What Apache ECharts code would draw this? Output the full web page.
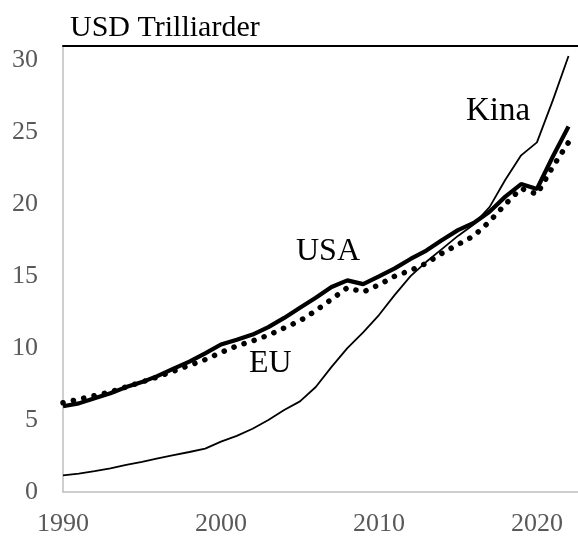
<!DOCTYPE html>
<html>
<head>
<meta charset="utf-8">
<script src="https://cdn.jsdelivr.net/npm/echarts@6/dist/echarts.min.js"></script>
<style>
  html, body { margin: 0; padding: 0; background: #fff; }
  #chart { width: 578px; height: 538px; }
</style>
</head>
<body>
<div id="chart"></div>
<script>
// år 1990-2022
const years = [];
for (let y = 1990; y <= 2022; y++) years.push(y);

const usa = [5.96, 6.16, 6.52, 6.86, 7.29, 7.64, 8.07, 8.58, 9.06, 9.63,
  10.25, 10.58, 10.94, 11.46, 12.1, 12.8, 13.5, 14.25, 14.71, 14.45,
  14.99, 15.54, 16.2, 16.78, 17.52, 18.2, 18.7, 19.48, 20.53, 21.4,
  21.06, 23.3, 25.4];

const eu = [6.2, 6.45, 6.7, 6.95, 7.3, 7.65, 8.0, 8.4, 8.8, 9.2,
  9.7, 10.15, 10.5, 10.9, 11.4, 11.9, 12.6, 13.4, 14.2, 13.9,
  14.4, 15.0, 15.4, 15.9, 16.6, 17.2, 17.8, 18.8, 20.0, 21.1,
  20.7, 22.6, 24.3];

const kina = [1.15, 1.28, 1.45, 1.65, 1.88, 2.1, 2.33, 2.56, 2.78, 3.02,
  3.5, 3.9, 4.4, 5.0, 5.7, 6.3, 7.3, 8.7, 10.0, 11.1,
  12.3, 13.7, 15.0, 16.0, 16.9, 17.8, 18.6, 19.8, 21.7, 23.4,
  24.3, 27.2, 30.3];

const yTicks = [0, 5, 10, 15, 20, 25, 30];
const xTicks = [1990, 2000, 2010, 2020];

const serif = '"Liberation Serif", "DejaVu Serif", serif';

function pairs(vals) {
  return years.map((y, i) => [y, vals[i]]);
}

const myChart = echarts.init(document.getElementById('chart'));
const option = {
  animation: false,
  grid: { left: 63, right: 0, top: 46, bottom: 46, containLabel: false },
  xAxis: [
    {
      type: 'value',
      min: 1990,
      max: 2022.6,
      interval: 10,
      axisLine: { show: true, onZero: false, lineStyle: { color: '#bfbfbf', width: 1.5 } },
      axisTick: { show: false },
      splitLine: { show: false },
      axisLabel: {
        showMaxLabel: false,
        margin: 19,
        color: '#595959',
        fontFamily: serif,
        fontSize: 26,
        formatter: v => xTicks.includes(v) ? String(v) : ''
      }
    },
    {
      // svart linje overst
      type: 'value',
      position: 'top',
      min: 1990,
      max: 2022.6,
      axisLine: { show: true, onZero: false, lineStyle: { color: '#000', width: 2 } },
      axisTick: { show: false },
      axisLabel: { show: false },
      splitLine: { show: false }
    }
  ],
  yAxis: {
    type: 'value',
    min: 0,
    max: 31,
    interval: 5,
    axisLine: { show: true, lineStyle: { color: '#bfbfbf', width: 1.5 } },
    axisTick: { show: false },
    splitLine: { show: false },
    axisLabel: {
      showMaxLabel: false,
      margin: 25,
      color: '#595959',
      fontFamily: serif,
      fontSize: 26,
      formatter: v => yTicks.includes(v) ? String(v) : ''
    }
  },
  series: [
    {
      name: 'Kina',
      type: 'line',
      data: pairs(kina),
      showSymbol: false,
      lineStyle: { color: '#000', width: 1.8 }
    },
    {
      name: 'EU',
      type: 'line',
      data: pairs(eu),
      showSymbol: false,
      lineStyle: { color: '#000', width: 5.5, type: [0.1, 10.5], cap: 'round' }
    },
    {
      name: 'USA',
      type: 'line',
      data: pairs(usa),
      showSymbol: false,
      lineStyle: { color: '#000', width: 4.2 }
    }
  ],
  graphic: [
    { type: 'text', x: 70, y: 28, style: { text: 'USD Trilliarder', fill: '#000', font: '30px ' + serif, verticalAlign: 'middle' } },
    { type: 'text', x: 296, y: 252, style: { text: 'USA', fill: '#000', font: '32px ' + serif, verticalAlign: 'middle' } },
    { type: 'text', x: 249, y: 364, style: { text: 'EU', fill: '#000', font: '32px ' + serif, verticalAlign: 'middle' } },
    { type: 'text', x: 466, y: 111, style: { text: 'Kina', fill: '#000', font: '33px ' + serif, verticalAlign: 'middle' } }
  ]
};
myChart.setOption(option);
</script>
</body>
</html>
